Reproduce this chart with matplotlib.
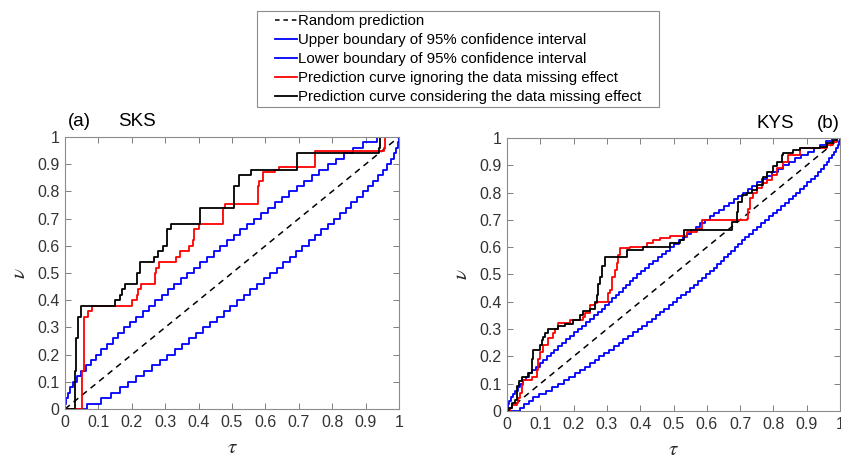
import numpy as np
import matplotlib
matplotlib.use('Agg')
import matplotlib.pyplot as plt
from matplotlib.patches import Rectangle

# ---------- fonts ----------
plt.rcParams['font.family'] = ['Liberation Sans', 'DejaVu Sans']
plt.rcParams['mathtext.fontset'] = 'stix'

# ---------- data ----------
ticks = [0, 0.1, 0.2, 0.3, 0.4, 0.5, 0.6, 0.7, 0.8, 0.9, 1]
tick_labels = ['0', '0.1', '0.2', '0.3', '0.4', '0.5', '0.6', '0.7', '0.8', '0.9', '1']
diag_tau = [0, 1]
diag_nu = [0, 1]

legend_labels = ['Random prediction',
                 'Upper boundary of 95% confidence interval',
                 'Lower boundary of 95% confidence interval',
                 'Prediction curve ignoring the data missing effect',
                 'Prediction curve considering the data missing effect']

# (a) SKS
sks_band_nu = [0, 0.02, 0.04, 0.06, 0.08, 0.10, 0.12, 0.14, 0.16, 0.18, 0.20,
               0.22, 0.24, 0.26, 0.28, 0.30, 0.32, 0.34, 0.36, 0.38, 0.40,
               0.42, 0.44, 0.46, 0.48, 0.50, 0.52, 0.54, 0.56, 0.58, 0.60,
               0.62, 0.64, 0.66, 0.68, 0.70, 0.72, 0.74, 0.76, 0.78, 0.80,
               0.82, 0.84, 0.86, 0.88, 0.90, 0.92, 0.94, 0.96, 0.98, 1.00]
sks_upper_tau = [0, 0.0, 0.003, 0.008, 0.015, 0.024, 0.035, 0.048, 0.062, 0.077, 0.093,
                 0.109, 0.126, 0.143, 0.160, 0.178, 0.196, 0.214, 0.233, 0.251, 0.270,
                 0.289, 0.308, 0.327, 0.347, 0.366, 0.386, 0.405, 0.425, 0.445, 0.465,
                 0.485, 0.505, 0.525, 0.546, 0.566, 0.587, 0.608, 0.629, 0.650, 0.672,
                 0.694, 0.716, 0.739, 0.762, 0.786, 0.810, 0.836, 0.863, 0.893, 0.935]
sks_lower_tau = [0, 0.065, 0.107, 0.137, 0.164, 0.190, 0.214, 0.238, 0.261, 0.284, 0.306,
                 0.328, 0.350, 0.371, 0.392, 0.413, 0.434, 0.454, 0.475, 0.495, 0.515,
                 0.535, 0.555, 0.575, 0.595, 0.614, 0.634, 0.653, 0.673, 0.692, 0.711,
                 0.730, 0.749, 0.767, 0.786, 0.804, 0.822, 0.840, 0.857, 0.874, 0.891,
                 0.907, 0.923, 0.938, 0.952, 0.965, 0.976, 0.985, 0.992, 0.997, 1.0]
sks_red_tau = [0, 0.052, 0.058, 0.070, 0.080, 0.200, 0.215, 0.220, 0.228, 0.268,
               0.272, 0.280, 0.333, 0.345, 0.370, 0.382, 0.386, 0.400, 0.474, 0.478,
               0.578, 0.582, 0.594, 0.630, 0.640, 0.750, 0.955, 0.958]
sks_red_nu = [0, 0.14, 0.34, 0.36, 0.38, 0.40, 0.42, 0.44, 0.46, 0.50,
              0.52, 0.54, 0.56, 0.58, 0.60, 0.62, 0.66, 0.68, 0.74, 0.755,
              0.82, 0.84, 0.87, 0.88, 0.89, 0.95, 0.96, 1.0]
sks_black_tau = [0, 0.030, 0.034, 0.040, 0.048, 0.150, 0.165, 0.172, 0.180, 0.215, 0.225,
                 0.265, 0.278, 0.292, 0.305, 0.318, 0.403, 0.507, 0.522, 0.558, 0.695,
                 0.940, 0.944]
sks_black_nu = [0, 0.14, 0.26, 0.34, 0.38, 0.40, 0.42, 0.44, 0.46, 0.50, 0.54,
                0.56, 0.58, 0.60, 0.66, 0.68, 0.74, 0.82, 0.86, 0.88, 0.94,
                0.96, 1.0]

# (b) KYS
kys_band_nu = [0,
               0.0125, 0.025, 0.0375, 0.05, 0.0625, 0.075, 0.0875, 0.1,
               0.1125, 0.125, 0.1375, 0.15, 0.1625, 0.175, 0.1875, 0.2,
               0.2125, 0.225, 0.2375, 0.25, 0.2625, 0.275, 0.2875, 0.3,
               0.3125, 0.325, 0.3375, 0.35, 0.3625, 0.375, 0.3875, 0.4,
               0.4125, 0.425, 0.4375, 0.45, 0.4625, 0.475, 0.4875, 0.5,
               0.5125, 0.525, 0.5375, 0.55, 0.5625, 0.575, 0.5875, 0.6,
               0.6125, 0.625, 0.6375, 0.65, 0.6625, 0.675, 0.6875, 0.7,
               0.7125, 0.725, 0.7375, 0.75, 0.7625, 0.775, 0.7875, 0.8,
               0.8125, 0.825, 0.8375, 0.85, 0.8625, 0.875, 0.8875, 0.9,
               0.9125, 0.925, 0.9375, 0.95, 0.9625, 0.975, 0.9875, 1.0]
kys_upper_tau = [0,
                 0.0, 0.003, 0.007, 0.012, 0.018, 0.025, 0.032, 0.040,
                 0.048, 0.057, 0.066, 0.076, 0.087, 0.098, 0.109, 0.120,
                 0.131, 0.142, 0.154, 0.165, 0.177, 0.188, 0.200, 0.212,
                 0.225, 0.237, 0.249, 0.261, 0.273, 0.284, 0.295, 0.306,
                 0.316, 0.327, 0.337, 0.348, 0.358, 0.369, 0.379, 0.390,
                 0.402, 0.414, 0.427, 0.439, 0.452, 0.464, 0.477, 0.490,
                 0.502, 0.515, 0.528, 0.540, 0.553, 0.566, 0.580, 0.594,
                 0.608, 0.622, 0.636, 0.651, 0.665, 0.680, 0.694, 0.708,
                 0.723, 0.737, 0.752, 0.767, 0.782, 0.797, 0.814, 0.830,
                 0.848, 0.866, 0.884, 0.903, 0.921, 0.940, 0.958, 0.975]
kys_lower_tau = [0,
                 0.040, 0.052, 0.066, 0.079, 0.097, 0.116, 0.134, 0.152,
                 0.170, 0.186, 0.203, 0.218, 0.233, 0.248, 0.263, 0.277,
                 0.292, 0.306, 0.320, 0.335, 0.349, 0.364, 0.378, 0.392,
                 0.406, 0.420, 0.434, 0.447, 0.460, 0.472, 0.485, 0.498,
                 0.510, 0.523, 0.536, 0.548, 0.561, 0.573, 0.586, 0.598,
                 0.610, 0.621, 0.631, 0.642, 0.652, 0.663, 0.673, 0.684,
                 0.694, 0.705, 0.716, 0.727, 0.739, 0.751, 0.763, 0.775,
                 0.788, 0.800, 0.812, 0.823, 0.835, 0.846, 0.858, 0.869,
                 0.880, 0.891, 0.902, 0.913, 0.924, 0.934, 0.943, 0.952,
                 0.960, 0.968, 0.975, 0.982, 0.988, 0.993, 0.997, 1.0]
kys_red_tau = [0, 0.009, 0.014, 0.029, 0.034, 0.039, 0.044, 0.049, 0.074, 0.089,
               0.094, 0.099, 0.109, 0.124, 0.139, 0.144, 0.154, 0.189, 0.229, 0.234,
               0.249, 0.264, 0.269, 0.304, 0.309, 0.314, 0.324, 0.329, 0.334, 0.339,
               0.369, 0.419, 0.439, 0.459, 0.490, 0.540, 0.570, 0.584, 0.720, 0.725,
               0.730, 0.740, 0.750, 0.765, 0.780, 0.795, 0.810, 0.830, 0.845, 0.880,
               0.960, 0.980, 0.990]
kys_red_nu = [0, 0.01, 0.022, 0.03, 0.046, 0.065, 0.095, 0.114, 0.126, 0.15,
              0.19, 0.217, 0.242, 0.266, 0.285, 0.30, 0.321, 0.333, 0.346, 0.36,
              0.388, 0.394, 0.40, 0.431, 0.443, 0.49, 0.515, 0.541, 0.57, 0.596,
              0.602, 0.614, 0.625, 0.633, 0.641, 0.657, 0.665, 0.70, 0.702, 0.74,
              0.78, 0.797, 0.816, 0.834, 0.846, 0.865, 0.889, 0.913, 0.938, 0.962,
              0.975, 0.987, 1.0]
kys_black_tau = [0, 0.007, 0.014, 0.024, 0.031, 0.037, 0.045, 0.064, 0.074, 0.079,
                 0.099, 0.104, 0.109, 0.114, 0.124, 0.154, 0.175, 0.199, 0.219, 0.229,
                 0.249, 0.264, 0.269, 0.274, 0.279, 0.284, 0.294, 0.360, 0.409, 0.490,
                 0.520, 0.530, 0.675, 0.690, 0.695, 0.705, 0.720, 0.735, 0.750, 0.770,
                 0.780, 0.800, 0.810, 0.825, 0.830, 0.860, 0.880, 0.940, 0.960, 0.980,
                 0.990]
kys_black_nu = [0, 0.01, 0.03, 0.04, 0.09, 0.11, 0.125, 0.14, 0.19, 0.225,
                0.24, 0.26, 0.27, 0.285, 0.30, 0.31, 0.32, 0.335, 0.35, 0.365,
                0.375, 0.40, 0.425, 0.465, 0.49, 0.53, 0.565, 0.59, 0.60, 0.615,
                0.625, 0.663, 0.694, 0.73, 0.767, 0.79, 0.80, 0.81, 0.828, 0.858,
                0.877, 0.897, 0.913, 0.938, 0.944, 0.956, 0.962, 0.968, 0.98, 0.993,
                1.0]


def draw_panel(ax, band_nu, upper_tau, lower_tau, red_tau, red_nu, black_tau, black_nu):
    """一个子图: 对角线 + 置信区间 + 两条预测曲线"""
    ax.plot(diag_tau, diag_nu, color='k', lw=1.1, dashes=(4, 3.2))
    ax.step(upper_tau + [1.0], band_nu + [1.0], where='post', color='#0000ff', lw=1.3)
    ax.step(lower_tau + [1.0], band_nu + [1.0], where='post', color='#0000ff', lw=1.3)
    ax.step(red_tau + [1.0], red_nu + [1.0], where='post', color='#ff0000', lw=1.3)
    ax.step(black_tau + [1.0], black_nu + [1.0], where='post', color='k', lw=1.3)

    ax.set_xlim(0, 1)
    ax.set_ylim(0, 1)
    ax.set_xticks(ticks)
    ax.set_xticklabels(tick_labels)
    ax.set_yticks(ticks)
    ax.set_yticklabels(tick_labels)
    ax.tick_params(direction='in', top=True, right=True, length=4, width=0.7,
                   color='#7f7f7f', labelsize=11.5, labelcolor='#333333', pad=4)
    for s in ax.spines.values():
        s.set_color('#8c8c8c')
        s.set_linewidth(0.8)
    ax.set_xlabel(r'$\tau$', fontsize=15, labelpad=6, color='#262626')
    ax.set_ylabel(r'$\nu$', fontsize=15, labelpad=6, color='#262626')


fig = plt.figure(figsize=(8.41, 4.59), dpi=100)
ax1 = fig.add_axes([0.0773, 0.1089, 0.3971, 0.5926])
ax2 = fig.add_axes([0.6029, 0.1046, 0.3960, 0.5948])

draw_panel(ax1, sks_band_nu, sks_upper_tau, sks_lower_tau,
           sks_red_tau, sks_red_nu, sks_black_tau, sks_black_nu)
draw_panel(ax2, kys_band_nu, kys_upper_tau, kys_lower_tau,
           kys_red_tau, kys_red_nu, kys_black_tau, kys_black_nu)

# 标题
fig.text(68 / 841, 1 - 126 / 459, '(a)', fontsize=13.5, va='baseline', ha='left')
fig.text(118 / 841, 1 - 126 / 459, 'SKS', fontsize=13.5, va='baseline', ha='left')
fig.text(757 / 841, 1 - 128 / 459, 'KYS', fontsize=13.5, va='baseline', ha='left')
fig.text(817 / 841, 1 - 128 / 459, '(b)', fontsize=13.5, va='baseline', ha='left')

# 图例 (单独画框)
h = [plt.Line2D([], [], color='k', lw=1.1, dashes=(3, 2.5)),
     plt.Line2D([], [], color='#0000ff', lw=1.3),
     plt.Line2D([], [], color='#0000ff', lw=1.3),
     plt.Line2D([], [], color='#ff0000', lw=1.3),
     plt.Line2D([], [], color='k', lw=1.3)]
fig.legend(h, legend_labels, loc='upper left', bbox_to_anchor=(275 / 841, 1 - 14 / 459),
           frameon=False, fontsize=10.8, handlelength=1.45, handletextpad=0.1,
           labelspacing=0.34, borderpad=0, borderaxespad=0)
fig.patches.append(Rectangle((257 / 841, 1 - 107 / 459), 402 / 841, 96 / 459,
                             transform=fig.transFigure, fill=False,
                             edgecolor='#8c8c8c', lw=0.8))

fig.savefig('out.png', dpi=100)
